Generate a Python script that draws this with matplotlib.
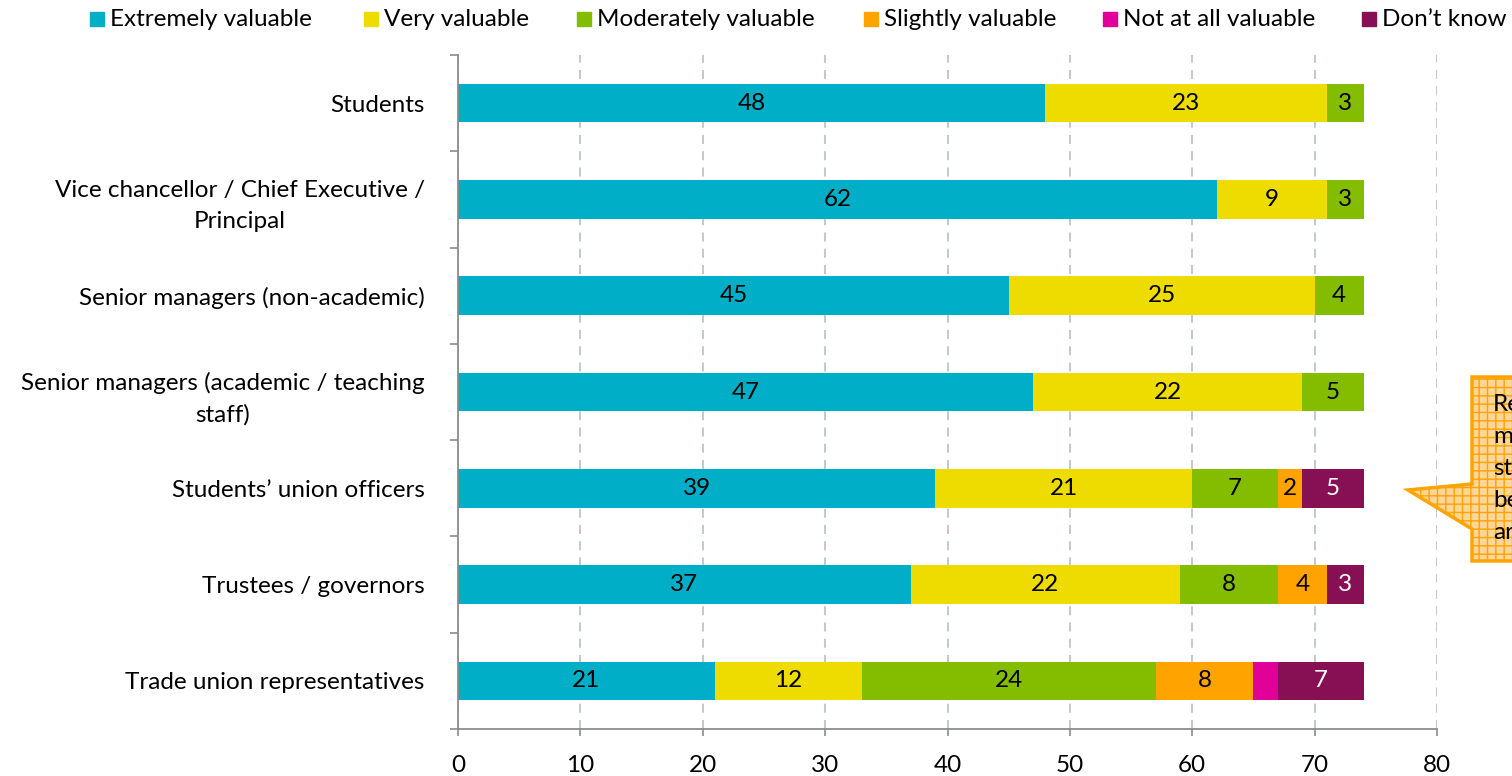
import matplotlib
matplotlib.use('Agg')
import matplotlib.pyplot as plt
from matplotlib.patches import Polygon, Rectangle
import numpy as np

plt.rcParams['font.family'] = ['Lato', 'DejaVu Sans']
plt.rcParams['hatch.color'] = '#FFB84D'

categories = ['Students',
              'Vice chancellor / Chief Executive /\nPrincipal',
              'Senior managers (non-academic)',
              'Senior managers (academic / teaching\nstaff)',
              'Students\u2019 union officers',
              'Trustees / governors',
              'Trade union representatives']
series_names = ['Extremely valuable', 'Very valuable', 'Moderately valuable',
                'Slightly valuable', 'Not at all valuable', 'Don\u2019t know']
extremely = [48, 62, 45, 47, 39, 37, 21]
very = [23, 9, 25, 22, 21, 22, 12]
moderately = [3, 3, 4, 5, 7, 8, 24]
slightly = [0, 0, 0, 0, 2, 4, 8]
not_at_all = [0, 0, 0, 0, 0, 0, 2]
dont_know = [0, 0, 0, 0, 5, 3, 7]
xticks = [0, 10, 20, 30, 40, 50, 60, 70, 80]

colors = ['#00AEC7', '#EEDC00', '#84BD00', '#FFA300', '#E10098', '#870F54']
label_colors = ['black', 'black', 'black', 'black', None, 'white']
legend_x = [90, 364, 577, 864, 1103, 1362]  # left edge of each legend key, px
fs = 17.5

fig = plt.figure(figsize=(15.12, 7.76), dpi=100)
ax = fig.add_axes([458 / 1512, 1 - 729 / 776, (1437 - 458) / 1512, (729 - 55) / 776])

y = np.arange(len(categories))
left = np.zeros(len(categories))
for vals, name, col, lcol in zip([extremely, very, moderately, slightly, not_at_all, dont_know],
                                 series_names, colors, label_colors):
    vals = np.array(vals)
    ax.barh(y, vals, left=left, height=0.40, color=col, label=name, zorder=3)
    if lcol:
        for yi, v, l in zip(y, vals, left):
            if v > 0:
                ax.text(l + v / 2, yi, str(v), ha='center', va='center',
                        fontsize=fs, color=lcol, zorder=4)
    left += vals

ax.set_ylim(len(categories) - 0.5, -0.5)
ax.set_xlim(0, 80)
ax.set_xticks(xticks)
ax.set_yticks(y)
ax.set_yticklabels(categories, fontsize=fs, multialignment='center', linespacing=1.55)
ax.set_yticks(np.arange(-0.5, len(categories), 1), minor=True)
ax.tick_params(axis='y', which='major', length=0, pad=24)
ax.tick_params(axis='y', which='minor', length=6, color='#8c8c8c', width=1.2)
ax.tick_params(axis='x', length=5, color='#8c8c8c', width=1.2, labelsize=fs, pad=14)
ax.grid(axis='x', color='#bcc6c6', linestyle=(0, (5, 4)), linewidth=1.3, zorder=0)
for s in ['top', 'right']:
    ax.spines[s].set_visible(False)
for s in ['left', 'bottom']:
    ax.spines[s].set_color('#8c8c8c')
    ax.spines[s].set_linewidth(1.3)
    ax.spines[s].set_zorder(5)

# legend along the top
W, H = 1512, 776
for lx, name, col in zip(legend_x, series_names, colors):
    fig.patches.append(Rectangle((lx / W, 1 - 26 / H), 14 / W, 14 / H,
                                 transform=fig.transFigure, color=col))
    fig.text((lx + 20) / W, 1 - 19 / H, name, ha='left', va='center', fontsize=fs)

# callout shape (clipped by the right edge of the figure)
pts = [(1472, 377), (1530, 377), (1530, 561), (1472, 561), (1472, 529),
       (1408, 490), (1472, 484)]
pts = [(px / W, 1 - py / H) for px, py in pts]
fig.patches.append(Polygon(pts, closed=True, transform=fig.transFigure,
                           facecolor='#FFD699', edgecolor='#FFA300', linewidth=2.5,
                           hatch='++', zorder=1))
fig.text(1493 / W, 1 - 394 / H, 'Respondents\nmost\nstrongly\nbelieve\nare',
         ha='left', va='top', fontsize=fs, linespacing=1.65)

fig.savefig('out.png', dpi=100)
